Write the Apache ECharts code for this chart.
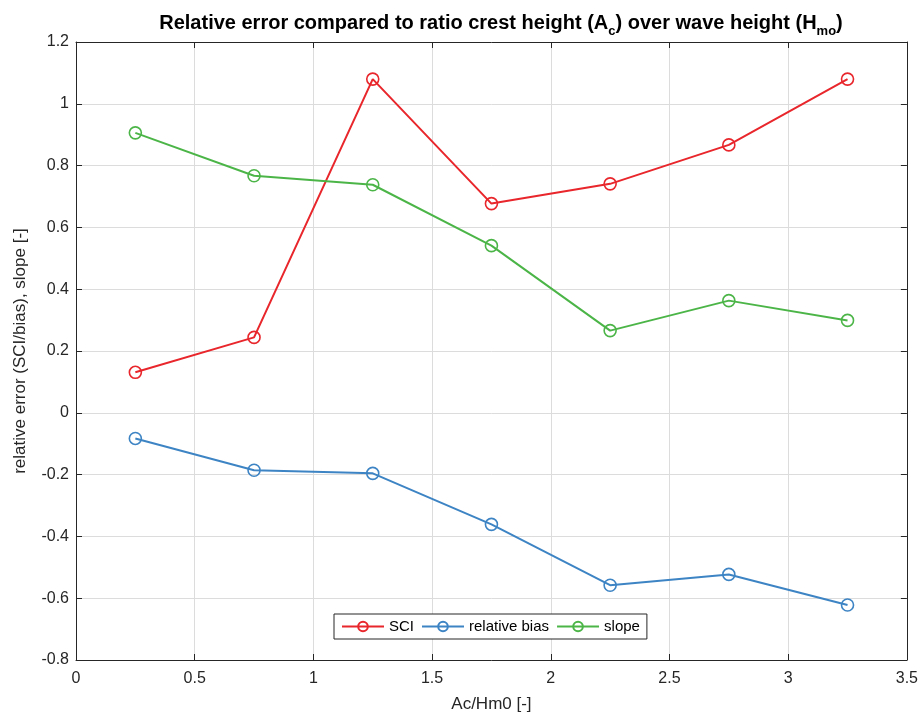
<!DOCTYPE html>
<html>
<head>
<meta charset="utf-8">
<script src="https://cdn.jsdelivr.net/npm/echarts@6/dist/echarts.min.js"></script>
<style>
  html, body { margin: 0; padding: 0; background: #fff; }
  #chart { width: 921px; height: 718px; }
</style>
</head>
<body>
<div id="chart"></div>
<script>
// Ac/Hm0 bins
const ratio = [0.25, 0.75, 1.25, 1.75, 2.25, 2.75, 3.25]
const sci = [0.131, 0.244, 1.08, 0.677, 0.741, 0.867, 1.08]
const relBias = [-0.083, -0.186, -0.196, -0.361, -0.558, -0.523, -0.622]
const slope = [0.906, 0.767, 0.738, 0.541, 0.266, 0.363, 0.299]

const font = 'Liberation Sans, Arial, sans-serif'
const axisColor = '#262626'

const chart = echarts.init(document.getElementById('chart'))

const pairs = vals => ratio.map((x, i) => [x, vals[i]])

// hollow markers, line shows through like matlab
const makeSeries = (name, vals, color) => ({
  name: name,
  type: 'line',
  data: pairs(vals),
  symbol: 'circle',
  symbolSize: 12,
  lineStyle: { color: color, width: 2 },
  itemStyle: { color: 'rgba(255,255,255,0)', borderColor: color, borderWidth: 1.6 },
  emphasis: { disabled: true }
})

const tick = { show: true, inside: true, length: 6, lineStyle: { color: axisColor } }

const option = {
  backgroundColor: '#fff',
  animation: false,
  title: {
    text: '{m|Relative error compared to ratio crest height (A}{s|c}{m|) over wave height (H}{s|mo}{m|)}',
    left: 496,
    top: 5,
    textAlign: 'center',
    textStyle: {
      rich: {
        m: { fontFamily: font, fontSize: 20, fontWeight: 'bold', color: '#000', lineHeight: 26 },
        s: { fontFamily: font, fontSize: 13, fontWeight: 'bold', color: '#000', lineHeight: 26, padding: [16, 0, 0, 0] }
      }
    }
  },
  legend: {
    left: 334,
    top: 614,
    itemWidth: 42,
    itemHeight: 12,
    itemGap: 7,
    padding: [5, 7, 5, 7],
    borderColor: '#262626',
    borderWidth: 1,
    backgroundColor: '#fff',
    borderRadius: 0,
    textStyle: { fontFamily: font, fontSize: 15, color: '#000' },
    data: ['SCI', 'relative bias', 'slope']
  },
  grid: { left: 76, right: 14, top: 42, bottom: 57, containLabel: false },
  xAxis: [
    {
      type: 'value',
      min: 0,
      max: 3.5,
      interval: 0.5,
      name: 'Ac/Hm0 [-]',
      nameLocation: 'middle',
      nameGap: 36,
      nameTextStyle: { fontFamily: font, fontSize: 17, color: axisColor },
      axisLine: { show: true, onZero: false, lineStyle: { color: axisColor } },
      axisTick: tick,
      axisLabel: { fontFamily: font, fontSize: 16, color: axisColor, margin: 11 },
      splitLine: { show: true, lineStyle: { color: '#dcdcdc' } }
    },
    {
      type: 'value',
      position: 'top',
      min: 0,
      max: 3.5,
      interval: 0.5,
      axisLine: { show: true, onZero: false, lineStyle: { color: axisColor } },
      axisTick: tick,
      axisLabel: { show: false },
      splitLine: { show: false }
    }
  ],
  yAxis: [
    {
      type: 'value',
      min: -0.8,
      max: 1.2,
      interval: 0.2,
      name: 'relative error (SCI/bias), slope [-]',
      nameLocation: 'middle',
      nameGap: 47,
      nameTextStyle: { fontFamily: font, fontSize: 17, color: axisColor },
      axisLine: { show: true, onZero: false, lineStyle: { color: axisColor } },
      axisTick: tick,
      axisLabel: {
        fontFamily: font,
        fontSize: 16,
        color: axisColor,
        margin: 7,
        formatter: v => String(Math.round(v * 10) / 10)
      },
      splitLine: { show: true, lineStyle: { color: '#dcdcdc' } }
    },
    {
      type: 'value',
      position: 'right',
      min: -0.8,
      max: 1.2,
      interval: 0.2,
      axisLine: { show: true, onZero: false, lineStyle: { color: axisColor } },
      axisTick: tick,
      axisLabel: { show: false },
      splitLine: { show: false }
    }
  ],
  series: [
    makeSeries('SCI', sci, '#e8262b'),
    makeSeries('relative bias', relBias, '#3d84c4'),
    makeSeries('slope', slope, '#4cb548')
  ]
}

chart.setOption(option)
</script>
</body>
</html>
